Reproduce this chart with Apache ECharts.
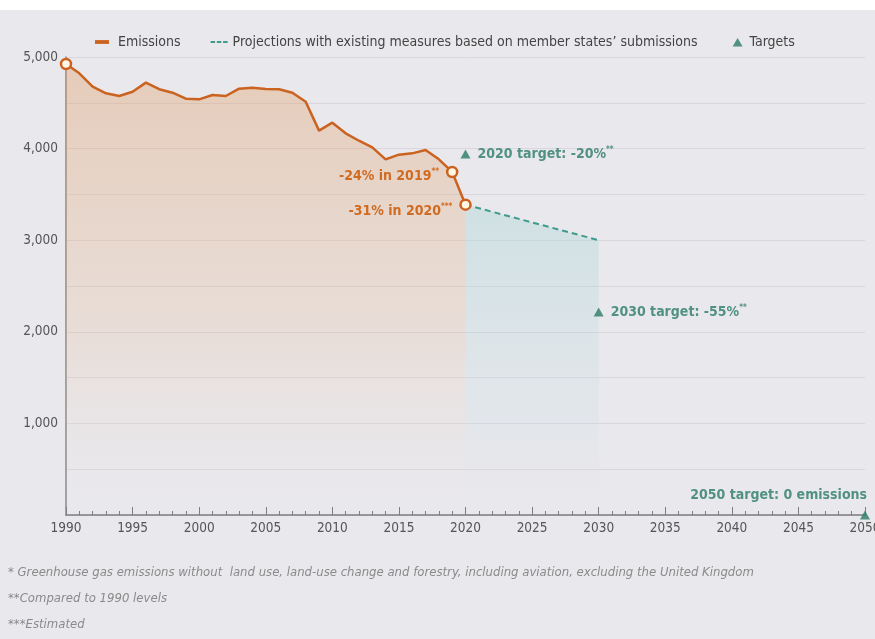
<!DOCTYPE html>
<html>
<head>
<meta charset="utf-8">
<style>
html,body{margin:0;padding:0;background:#ffffff;}
#chart{width:875px;height:639px;}
</style>
<script src="https://cdn.jsdelivr.net/npm/echarts@6/dist/echarts.min.js"></script>
</head>
<body>
<div id="chart"></div>
<script>
// ---- data ----
const years = [1990,1991,1992,1993,1994,1995,1996,1997,1998,1999,2000,2001,2002,2003,2004,2005,2006,2007,2008,2009,2010,2011,2012,2013,2014,2015,2016,2017,2018,2019,2020];
const emissions = [4924,4822,4676,4604,4574,4621,4720,4648,4610,4545,4538,4585,4574,4654,4665,4651,4648,4610,4512,4196,4283,4167,4086,4014,3883,3934,3948,3985,3883,3745,3388];
const projYears = [2020,2030];
const projValues = [3388,3000];
const targetYears = [2020,2030,2050];
const targetValues = [3940,2215,0];
const targetNames = ['2020 target: -20%','2030 target: -55%','2050 target: 0 emissions'];
const targetSup = ['**','**',''];
const yTicks = [1000,2000,3000,4000,5000];
const footnotes = [
  '* Greenhouse gas emissions without  land use, land-use change and forestry, including aviation, excluding the United Kingdom',
  '**Compared to 1990 levels',
  '***Estimated'
];

const FONT = '"Liberation Sans Narrow","DejaVu Sans Condensed","Liberation Sans",sans-serif';
const ORANGE = '#cb6320';
const ORANGE_TXT = '#d06b22';
const TEAL = '#3f9b8c';
const GREEN = '#2b7a66';
const BG = '#e9e8ec';
const PROJ_NAME = 'Projections with existing measures based on member states\u2019 submissions';

const emData = years.map((y,i)=>{
  const d = {value:[y,emissions[i]]};
  if (y===1990 || y===2019 || y===2020) {
    d.symbol = 'circle';
    d.symbolSize = 10;
  }
  if (y===2019) {
    d.label = {show:true, position:'left', distance:7, offset:[0,4],
      formatter:'{a|-24% in 2019}{s|**}'};
  }
  if (y===2020) {
    d.label = {show:true, position:'left', distance:7, offset:[0,7],
      formatter:'{a|-31% in 2020}{s|***}'};
  }
  return d;
});

const tgData = targetYears.map((y,i)=>{
  const d = {value:[y,targetValues[i]], name:targetNames[i]};
  if (i<2) {
    d.label = {show:true, position:'right', distance:7,
      formatter:'{a|'+targetNames[i]+'}{s|'+targetSup[i]+'}'};
  } else {
    d.label = {show:true, position:'top', align:'right', distance:8, offset:[2,0],
      formatter:'{a|'+targetNames[i]+'}'};
  }
  return d;
});

const richLabel = (c) => ({
  a:{fontFamily:FONT, fontSize:14, fontWeight:'bold', color:c},
  s:{fontFamily:FONT, fontSize:8, fontWeight:'bold', color:c, verticalAlign:'top', padding:[0,0,9,0]}
});

const chart = echarts.init(document.getElementById('chart'));
chart.setOption({
  backgroundColor: BG,
  animation: false,
  textStyle: {fontFamily: FONT},
  grid: {left:66, right:10, top:57, bottom:124, containLabel:false, outerBoundsMode:'none'},
  legend: {
    top: 30, left: 90, itemGap: 30, itemWidth: 17, itemHeight: 10,
    textStyle: {fontFamily: FONT, fontSize: 14, color: '#444'},
    data: [
      {name:'Emissions', icon:'path://M0,0L12,0L12,1.8L0,1.8ZM17,0.9L17,0.9', itemStyle:{color:ORANGE}},
      {name:PROJ_NAME, icon:'path://M0,0h4.5v1.8h-4.5zM6.25,0h4.5v1.8h-4.5zM12.5,0h4.5v1.8h-4.5z', itemStyle:{color:TEAL}},
      {name:'Targets', icon:'path://M0,0L0,0M10,0.5L15,9L5,9ZM17,0L17,0', itemStyle:{color:GREEN}}
    ]
  },
  xAxis: {
    type:'value', min:1990, max:2050, interval:5,
    axisLine:{show:true, lineStyle:{color:'#7d7d7d', width:1.5}},
    axisTick:{show:true, inside:true, length:8, lineStyle:{color:'#7d7d7d'}},
    minorTick:{show:true, splitNumber:5, length:4, lineStyle:{color:'#7d7d7d'}},
    splitLine:{show:false},
    axisLabel:{fontFamily:FONT, fontSize:13.5, color:'#555', margin:6, formatter: v=>String(v)}
  },
  yAxis: {
    type:'value', min:0, max:5000, interval:500,
    axisLine:{show:true, lineStyle:{color:'#8a8a8a', width:1.5}},
    axisTick:{show:false},
    splitLine:{show:true, lineStyle:{color:'#d9d7dd', width:1}},
    axisLabel:{fontFamily:FONT, fontSize:13.5, color:'#555', margin:8,
      formatter: v => yTicks.indexOf(v)>=0 ? v.toLocaleString('en-US') : ''}
  },
  series: [
    {
      name:'Emissions', type:'line', data:emData, symbol:'none', showSymbol:true,
      z:5,
      lineStyle:{color:ORANGE, width:2.5},
      itemStyle:{color:'#fff6e6', borderColor:ORANGE, borderWidth:2.5},
      areaStyle:{color:{type:'linear',x:0,y:0,x2:0,y2:1,colorStops:[
        {offset:0,color:'rgba(224,150,90,0.5)'},
        {offset:0.6,color:'rgba(228,176,130,0.28)'},
        {offset:1,color:'rgba(233,232,236,0.02)'}]}},
      label:{fontFamily:FONT, color:ORANGE_TXT, rich:richLabel(ORANGE_TXT)}
    },
    {
      name:PROJ_NAME,
      type:'line', data:projYears.map((y,i)=>[y,projValues[i]]), symbol:'none', z:4,
      lineStyle:{color:TEAL, width:2, type:[6,4]},
      itemStyle:{color:TEAL},
      areaStyle:{color:{type:'linear',x:0,y:0,x2:0,y2:1,colorStops:[
        {offset:0,color:'rgba(170,214,214,0.6)'},
        {offset:0.7,color:'rgba(190,220,225,0.22)'},
        {offset:1,color:'rgba(233,232,236,0)'}]}}
    },
    {
      name:'Targets', type:'scatter', data:tgData, symbol:'triangle', symbolSize:[10,9],
      z:6,
      itemStyle:{color:GREEN},
      label:{fontFamily:FONT, color:GREEN, rich:richLabel(GREEN)}
    }
  ],
  graphic: [
    {type:'rect', left:0, top:0, shape:{width:875, height:10}, style:{fill:'#ffffff'}, z:100},
    {type:'text', left:8, top:566, style:{text:footnotes[0], font:'italic 13px '+FONT, fill:'#8a8a8a'}},
    {type:'text', left:8, top:592, style:{text:footnotes[1], font:'italic 13px '+FONT, fill:'#8a8a8a'}},
    {type:'text', left:8, top:618, style:{text:footnotes[2], font:'italic 13px '+FONT, fill:'#8a8a8a'}}
  ]
});
</script>
</body>
</html>
